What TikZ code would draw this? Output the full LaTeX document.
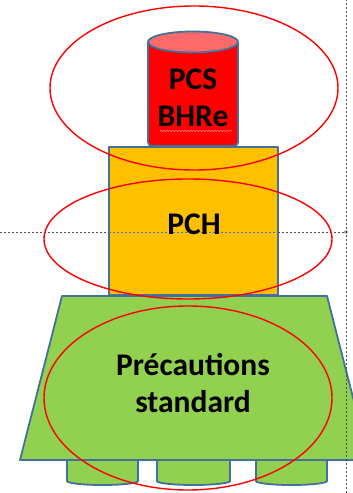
\documentclass[tikz,border=0pt]{standalone}
\usepackage{fontspec}
\setmainfont{Carlito}
\usetikzlibrary{decorations.pathmorphing}
\definecolor{edgeblue}{HTML}{41719C}
\definecolor{redfill}{HTML}{FF0000}
\definecolor{redtop}{HTML}{FF6B6B}
\definecolor{orangefill}{HTML}{FFC000}
\definecolor{greenfill}{HTML}{92D050}
\definecolor{ringred}{HTML}{FF0000}
\definecolor{guideblue}{HTML}{3A6FD8}
\tikzset{
  block/.style={draw=edgeblue, line width=1.8pt, line join=round},
  ring/.style={draw=ringred, line width=1.4pt},
  guide/.style={line width=0.6pt, dash pattern=on 2pt off 2pt, color=black!70},
  label/.style={font=\fontsize{31.5}{37}\selectfont\bfseries, align=center, inner sep=0pt, text=black}
}
\begin{document}
\begin{tikzpicture}[x=1pt,y=1pt]
\useasboundingbox (0,0) rectangle (353,493);
\fill[white] (0,0) rectangle (353,493);
% legs
\path[block, fill=greenfill] (67,33) -- (67,12) arc[start angle=180, end angle=360, x radius=35.5, y radius=4] -- (138,33);
\path[block, fill=greenfill] (157,33) -- (157,12) arc[start angle=180, end angle=360, x radius=36.5, y radius=4] -- (230,33);
\path[block, fill=greenfill] (256,33) -- (256,12) arc[start angle=180, end angle=360, x radius=35.5, y radius=4] -- (327,33);
% trapezoid
\path[block, fill=greenfill] (62,197) -- (327,197) -- (369,33) -- (20,33) -- cycle;
% rectangle
\path[block, fill=orangefill] (109,198) rectangle (278,346);
% cylinder
\path[block, fill=redfill, rounded corners=4pt] (148,451) -- (148,347) -- (238,347) -- (238,451);
\path[block, fill=redtop] (193,451) ellipse[x radius=45, y radius=10.5];
% guides
\draw[guide] (0,261) -- (109,261);
\draw[guide] (278,261) -- (346,261);
\draw[guide, color=guideblue] (109,261) -- (278,261);
\draw[guide] (346,0) -- (346,493);
\draw[line width=0.5pt, black!70] (346,261) circle[radius=1.5];
% text
\node[label] (pcs) at (193,395) {PCS\\BHRe};
\node[label] (pch) at (194,269) {PCH};
\node[label] (ps) at (193,110) {Précautions\\standard};
\draw[color=ringred!50, line width=0.5pt, decorate, decoration={snake, amplitude=0.8pt, segment length=3pt}] (160,362) -- (232,362);
% rings
\draw[ring] (194,405) ellipse[x radius=144, y radius=82];
\draw[ring] (188,254) ellipse[x radius=144, y radius=60];
\draw[ring] (188,95) ellipse[x radius=144, y radius=92];
\end{tikzpicture}
\end{document}
